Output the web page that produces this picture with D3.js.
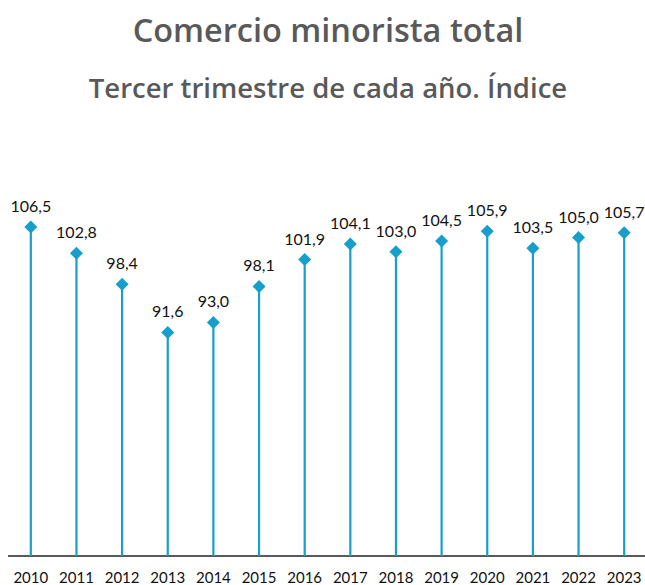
<!DOCTYPE html>
<html>
<head>
<meta charset="utf-8">
<script src="https://cdn.jsdelivr.net/npm/d3@7"></script>
<style>
  body { margin: 0; background: #fff; }
  svg { display: block; }
</style>
</head>
<body>
<div id="container"></div>
<script>
var years = ['2010','2011','2012','2013','2014','2015','2016','2017','2018','2019','2020','2021','2022','2023'];
var values = [106.5, 102.8, 98.4, 91.6, 93.0, 98.1, 101.9, 104.1, 103.0, 104.5, 105.9, 103.5, 105.0, 105.7];
var y_domain = [60, 110];

var width = 645, height = 585;
var blue = '#179fcb';

var svg = d3.select('#container').append('svg').attr('width', width).attr('height', height);

// titles
svg.append('text').attr('x', 328).attr('y', 42).attr('text-anchor', 'middle')
  .style('font-family', '"Open Sans", sans-serif').style('font-weight', 600)
  .style('font-size', '32.5px').style('fill', '#595959').text('Comercio minorista total');
svg.append('text').attr('x', 328).attr('y', 98).attr('text-anchor', 'middle')
  .style('font-family', '"Open Sans", sans-serif').style('font-weight', 600)
  .style('font-size', '27.5px').style('fill', '#595959').text('Tercer trimestre de cada año. Índice');

var x = d3.scaleBand().domain(years).range([8, 647]);
var y = d3.scaleLinear().domain(y_domain).range([556, 202.2]);

// axis
var xAxis = svg.append('g').attr('transform', 'translate(0,556)')
  .call(d3.axisBottom(x).tickSize(0).tickPadding(16));
xAxis.select('.domain').attr('d', 'M8,0H645').attr('stroke', '#222').attr('stroke-width', 1.3);
xAxis.selectAll('text').style('font-family', 'Lato, "Open Sans", sans-serif')
  .style('font-size', '15px').style('fill', '#111');

// stems, diamonds, labels
var g = svg.append('g');
years.forEach(function(yr, i){
  var cx = x(yr) + x.bandwidth()/2;
  var cy = y(values[i]);
  g.append('line').attr('x1', cx).attr('x2', cx).attr('y1', cy).attr('y2', 556)
    .attr('stroke', blue).attr('stroke-width', 2.2);
  g.append('path').attr('d', 'M0,-6.5L6.5,0L0,6.5L-6.5,0Z')
    .attr('transform', 'translate(' + cx + ',' + cy + ')')
    .attr('fill', blue);
  g.append('text').attr('x', cx).attr('y', cy - 15).attr('text-anchor', 'middle')
    .style('font-family', 'Lato, "Open Sans", sans-serif').style('font-size', '16px').style('fill', '#111')
    .text(values[i].toFixed(1).replace('.', ','));
});
</script>
</body>
</html>
